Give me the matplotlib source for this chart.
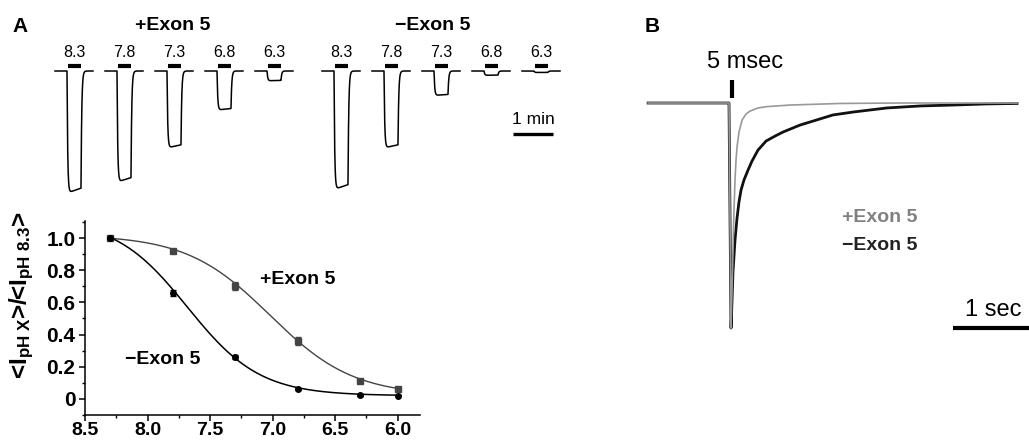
import numpy as np
import matplotlib
matplotlib.use('Agg')
import matplotlib.pyplot as plt
from matplotlib.ticker import MultipleLocator, FuncFormatter

plt.rcParams['font.family'] = ['Liberation Sans', 'DejaVu Sans']
plt.rcParams['mathtext.fontset'] = 'custom'
plt.rcParams['mathtext.rm'] = 'Liberation Sans:bold'
plt.rcParams['mathtext.it'] = 'Liberation Sans:bold'
plt.rcParams['mathtext.bf'] = 'Liberation Sans:bold'

# ---- data: panel A traces (peak current, normalised to +Exon 5 at pH 8.3)
ph_labels = ['8.3', '7.8', '7.3', '6.8', '6.3']
amp_plus = [1.0, 0.91, 0.63, 0.32, 0.08]
amp_minus = [0.97, 0.63, 0.20, 0.035, 0.012]

# ---- data: panel A dose response
ph = [8.3, 7.8, 7.3, 6.8, 6.3, 6.0]
resp_plus = [1.0, 0.92, 0.70, 0.36, 0.11, 0.06]
err_plus = [0, 0.01, 0.025, 0.025, 0.006, 0.005]
resp_minus = [1.0, 0.66, 0.26, 0.06, 0.025, 0.02]
err_minus = [0, 0.02, 0.01, 0.005, 0.004, 0.004]

# Hill fits: top, bottom, pH50, nH
fit_plus = (1.02, 0.02, 7.02, 1.3)
fit_minus = (1.12, 0.02, 7.68, 1.5)

# ---- data: panel B, normalised current traces (time in s)
t_plus = [-1.05, -0.013, 0.013, 0.026, 0.038, 0.051, 0.064, 0.077, 0.090,
          0.115, 0.154, 0.205, 0.256, 0.359, 0.474, 0.769, 1.41, 2.18, 3.68]
i_plus = [0, 0, -1.0, -0.831, -0.653, -0.476, -0.342, -0.253, -0.196,
          -0.129, -0.076, -0.049, -0.036, -0.022, -0.016, -0.009, -0.002,
          0.0, 0.0]
t_minus = [-1.05, -0.013, 0.013, 0.026, 0.038, 0.064, 0.090, 0.115, 0.141,
           0.179, 0.231, 0.282, 0.359, 0.462, 0.577, 0.679, 0.897, 1.32,
           1.58, 2.01, 2.44, 2.86, 3.29, 3.68]
i_minus = [0, 0, -1.0, -0.876, -0.751, -0.609, -0.511, -0.440, -0.387,
           -0.342, -0.298, -0.258, -0.209, -0.169, -0.147, -0.129, -0.098,
           -0.053, -0.040, -0.022, -0.013, -0.009, -0.004, -0.002]

W, H = 1029, 443
fig = plt.figure(figsize=(W / 100, H / 100), dpi=100)


def px(x, y):
    return x / W, 1 - y / H


def hill(x, top, bottom, ph50, nh):
    return bottom + (top - bottom) / (1 + 10 ** (nh * (ph50 - x)))


# ---- panel A: example traces
T_ON, T_OFF, TAU_ON, TAU_OFF = 18.0, 39.0, 1.0, 1.1


def pulse(t, amp):
    y = np.zeros_like(t)
    a = t >= T_ON
    y[a] = 1 - np.exp(-(t[a] - T_ON) / TAU_ON)
    b = t >= T_OFF
    y[b] = y[b] * np.exp(-(t[b] - T_OFF) / TAU_OFF)
    sag = 1 - 0.04 * np.clip((t - T_ON) / (T_OFF - T_ON), 0, 1)
    return -amp * y * sag


ax_tr = fig.add_axes([40 / W, 1 - 200 / H, 560 / W, 170 / H])
ax_tr.set_xlim(0, 840)
ax_tr.set_ylim(-1.057, 0.336)
ax_tr.axis('off')
tt = np.linspace(0, 57, 800)
for start, amps in [(22.5, amp_plus), (423.0, amp_minus)]:
    for i, (lab, a) in enumerate(zip(ph_labels, amps)):
        t0 = start + i * 75
        ax_tr.plot(t0 + tt, pulse(tt, a), color='k', lw=1.1)
        ax_tr.plot([t0 + 19.5, t0 + 39], [0.04, 0.04], color='k', lw=3,
                   solid_capstyle='butt')
        ax_tr.text(t0 + 29, 0.15, lab, ha='center', va='center', fontsize=11.5)
# 1 min scale bar
ax_tr.plot([709.5, 769.5], [-0.516, -0.516], color='k', lw=2.4,
           solid_capstyle='butt')
ax_tr.text(739.5, -0.40, '1 min', ha='center', va='center', fontsize=12.5)

fig.text(*px(20, 27), 'A', fontsize=15, fontweight='bold', ha='center', va='center')
fig.text(*px(173, 25), '+Exon 5', fontsize=14, fontweight='bold', ha='center', va='center')
fig.text(*px(433, 25), '\u2212Exon 5', fontsize=14, fontweight='bold', ha='center', va='center')

# ---- panel A: dose response
ax = fig.add_axes([85 / W, 1 - 415 / H, 335 / W, 194 / H])
xx = np.linspace(8.3, 6.0, 300)
ax.plot(xx, hill(xx, *fit_plus), color='#444444', lw=1.0)
ax.plot(xx, hill(xx, *fit_minus), color='k', lw=1.1)
ax.errorbar(ph, resp_plus, yerr=err_plus, fmt='s', color='#444444', ms=4,
            capsize=2.5, elinewidth=1, capthick=1)
ax.errorbar(ph, resp_minus, yerr=err_minus, fmt='o', color='k', ms=4,
            capsize=2.5, elinewidth=1, capthick=1)
ax.set_xlim(8.5, 5.82)
ax.set_ylim(-0.1, 1.106)
ax.set_xticks([8.5, 8.0, 7.5, 7.0, 6.5, 6.0])
ax.xaxis.set_minor_locator(MultipleLocator(0.25))
ax.set_yticks([0, 0.2, 0.4, 0.6, 0.8, 1.0])
ax.yaxis.set_minor_locator(MultipleLocator(0.1))
ax.xaxis.set_major_formatter(FuncFormatter(lambda v, p: f'{v:.1f}'))
ax.yaxis.set_major_formatter(FuncFormatter(lambda v, p: '0' if abs(v) < 1e-9 else f'{v:.1f}'))
for s in ['top', 'right']:
    ax.spines[s].set_visible(False)
for s in ['left', 'bottom']:
    ax.spines[s].set_linewidth(1.1)
ax.tick_params(which='major', length=4, width=1.1, labelsize=14, pad=1)
ax.tick_params(axis='y', which='major', pad=3, labelsize=15)
ax.tick_params(which='minor', length=2.5, width=1.0)
for lab in ax.get_xticklabels() + ax.get_yticklabels():
    lab.set_fontweight('bold')
ax.set_ylabel(r'<I$_{\rm pH\ X}$>/<I$_{\rm pH\ 8.3}$>', fontsize=17.5,
              fontweight='bold')
ax.yaxis.set_label_coords(-0.145, 0.62)
ax.text(7.1, 0.74, '+Exon 5', fontsize=14, fontweight='bold', ha='left', va='center')
ax.text(8.18, 0.242, '\u2212Exon 5', fontsize=14, fontweight='bold', ha='left', va='center')

# ---- panel B: normalised currents
ax_b = fig.add_axes([640 / W, 1 - 340 / H, 389 / W, 300 / H])
ax_b.set_xlim(-1.154, 3.833)
ax_b.set_ylim(-1.053, 0.28)
ax_b.axis('off')
ax_b.plot(t_minus, i_minus, color='#111111', lw=2.0)
ax_b.plot(t_plus, i_plus, color='#999999', lw=1.2)
ax_b.plot([0.026, 0.026], [0.022, 0.102], color='k', lw=3, solid_capstyle='butt')
ax_b.text(0.19, 0.182, '5 msec', fontsize=17, ha='center', va='center')
ax_b.plot([2.86, 3.9], [-1.0, -1.0], color='k', lw=3, solid_capstyle='butt',
          clip_on=False)
ax_b.text(3.01, -0.92, '1 sec', fontsize=17, ha='left', va='center')
ax_b.text(1.436, -0.507, '+Exon 5', fontsize=14, fontweight='bold',
          color='#808080', ha='left', va='center')
ax_b.text(1.436, -0.631, '\u2212Exon 5', fontsize=14, fontweight='bold',
          color='#222222', ha='left', va='center')
fig.text(*px(652, 26), 'B', fontsize=15, fontweight='bold', ha='center', va='center')

fig.savefig('out.png', dpi=100)
